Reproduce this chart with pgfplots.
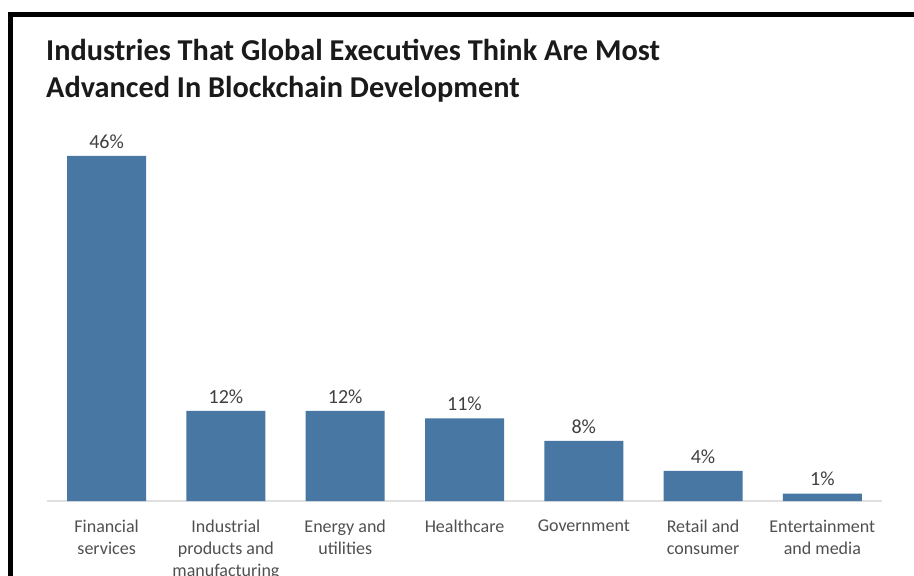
\documentclass[border=0pt]{standalone}
\usepackage{pgfplots}
\pgfplotsset{compat=1.18}
\usepackage{fontspec}
\setmainfont{Carlito}
\definecolor{barblue}{RGB}{72,119,163}
\definecolor{lblgrey}{RGB}{64,64,64}
\definecolor{tickgrey}{RGB}{80,80,80}
\definecolor{titleblk}{RGB}{26,26,26}
\begin{document}
\begin{tikzpicture}[x=1pt,y=1pt]
\useasboundingbox (0,0) rectangle (914,576);
\fill[white] (0,0) rectangle (914,576);
\draw[line width=5pt,black] (10.8,-5) -- (10.8,561.8) -- (920,561.8);
\node[anchor=base west,font=\fontsize{30.3}{34}\selectfont\bfseries,text=titleblk,inner sep=0pt] at (46,576-61) {Industries That Global Executives Think Are Most};
\node[anchor=base west,font=\fontsize{30.3}{34}\selectfont\bfseries,text=titleblk,inner sep=0pt] at (46,576-98) {Advanced In Blockchain Development};
\begin{axis}[
  at={(47pt,75pt)}, anchor=south west,
  scale only axis, width=835pt, height=375pt,
  xmin=-0.5, xmax=6.5, ymin=0, ymax=50,
  hide y axis,
  axis x line=bottom,
  x axis line style={-, draw=black!12, line width=1.2pt},
  xtick={0,...,6},
  xtick style={draw=none},
  xticklabels={Financial\\services, Industrial\\products and\\manufacturing, Energy and\\utilities, Healthcare, Government, Retail and\\consumer, Entertainment\\and media},
  xticklabel style={align=center, font=\fontsize{18}{22}\selectfont, text=tickgrey, yshift=-11pt},
  ybar, bar width=79pt,
  /pgf/number format/assume math mode=true,
  nodes near coords={\pgfmathprintnumber{\pgfplotspointmeta}\%},
  every node near coord/.append style={font=\fontsize{20}{24}\selectfont, text=lblgrey, yshift=4pt},
  clip=false,
]
\addplot[fill=barblue, draw=none] coordinates {(0,46) (1,12) (2,12) (3,11) (4,8) (5,4) (6,1)};
\end{axis}
\end{tikzpicture}
\end{document}
